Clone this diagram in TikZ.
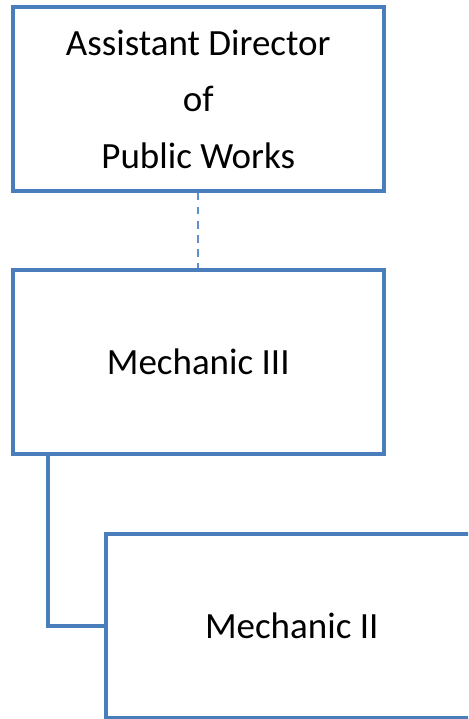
\documentclass[tikz,border=0pt]{standalone}
\usepackage{fontspec}
\setmainfont{Carlito}
\usetikzlibrary{calc}
\definecolor{boxline}{RGB}{74,126,187}
\definecolor{dashline}{RGB}{91,143,208}
\tikzset{
  x=1pt, y=-1pt,
  orgbox/.style={draw=boxline, line width=4pt, fill=white,
    minimum width=371.5pt, minimum height=184pt, inner sep=0pt,
    align=center, font=\fontsize{37}{56.5}\selectfont},
  solidlink/.style={draw=boxline, line width=4pt},
  dottedlink/.style={draw=dashline, line width=1.8pt, dash pattern=on 7.5pt off 6.5pt}
}
\begin{document}
\begin{tikzpicture}
  \useasboundingbox (0,0) rectangle (468,719);
  \clip (0,0) rectangle (468,719);

  % boxes of the chart
  \node[orgbox] (director) at (198.25,99) {Assistant Director\\of\\Public Works};
  \node[orgbox, minimum height=184.5pt] (mech3) at (198.25,361.75) {Mechanic III};
  \node[orgbox, minimum height=184.5pt] (mech2) at (291.75,625.75) {Mechanic II};

  % connectors
  \draw[dottedlink] (director.south) -- (mech3.north);
  \coordinate (drop) at ($(mech3.south west)+(37.5,0)$);
  \draw[solidlink] (drop) |- (mech2.west);
\end{tikzpicture}
\end{document}
